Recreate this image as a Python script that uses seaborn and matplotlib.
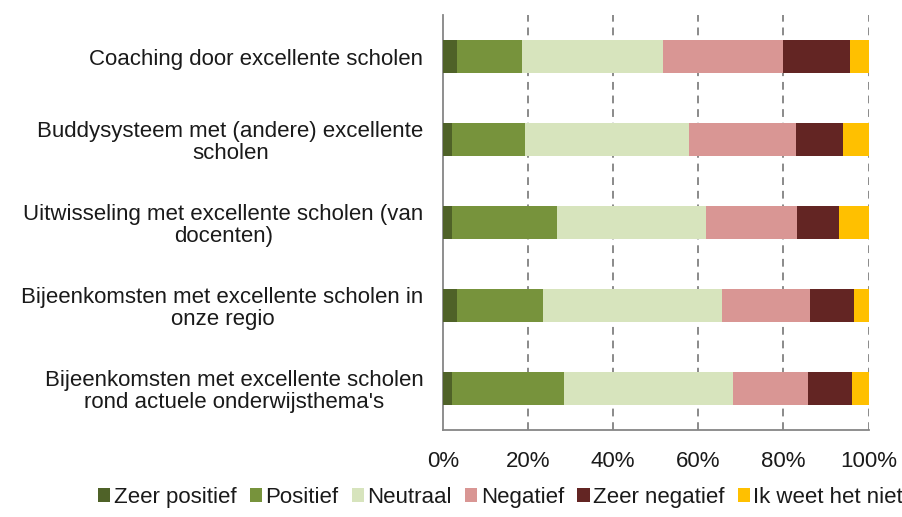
import numpy as np
import pandas as pd
import seaborn as sns
import matplotlib.pyplot as plt
from matplotlib.patches import Patch

# Data (percentages per answer category)
items = [
    "Coaching door excellente scholen",
    "Buddysysteem met (andere) excellente\nscholen",
    "Uitwisseling met excellente scholen (van\ndocenten)",
    "Bijeenkomsten met excellente scholen in\nonze regio",
    "Bijeenkomsten met excellente scholen\nrond actuele onderwijsthema's",
]
answers = ["Zeer positief", "Positief", "Neutraal", "Negatief", "Zeer negatief", "Ik weet het niet"]
zeer_positief = [3.2, 2.2, 2.2, 3.2, 2.2]
positief = [15.5, 17.0, 24.7, 20.2, 26.3]
neutraal = [33.1, 38.6, 34.8, 42.1, 39.7]
negatief = [28.2, 25.1, 21.5, 20.7, 17.6]
zeer_negatief = [15.6, 11.1, 9.9, 10.3, 10.3]
weet_niet = [4.4, 6.0, 6.9, 3.5, 3.9]
colors = ["#4F6228", "#77933C", "#D7E4BD", "#D99694", "#632523", "#FFC000"]

sns.set_style("white")
plt.rcParams['font.family'] = ['Liberation Sans', 'DejaVu Sans']
FS = 16

df = pd.DataFrame({
    "item": items,
    "Zeer positief": zeer_positief,
    "Positief": positief,
    "Neutraal": neutraal,
    "Negatief": negatief,
    "Zeer negatief": zeer_negatief,
    "Ik weet het niet": weet_niet,
})
# normalise each row to 100% and build cumulative sums for stacking
vals = df[answers]
vals = vals.div(vals.sum(axis=1), axis=0) * 100
cum = vals.cumsum(axis=1)
cum["item"] = df["item"]

fig = plt.figure(figsize=(9.02, 5.17), dpi=100)
ax = fig.add_axes([0.491, 0.168, 0.472, 0.803])

# draw from the largest cumulative value down so each segment shows
for ans, col in reversed(list(zip(answers, colors))):
    sns.barplot(data=cum, x=ans, y="item", color=col, orient="h",
                width=0.4, saturation=1, ax=ax, linewidth=0, zorder=3)

ax.set_xlim(0, 100)
ax.set_ylim(4.5, -0.5)
ax.set_xlabel("")
ax.set_ylabel("")
ax.set_xticks(np.arange(0, 101, 20))
ax.set_xticklabels([f"{v}%" for v in range(0, 101, 20)], fontsize=FS, color="#1a1a1a")
for v in range(20, 101, 20):
    ax.axvline(v, color="#8A8A8A", linestyle=(0, (4, 3)), linewidth=1.4, zorder=1)

ax.set_yticks(range(len(items)))
ax.set_yticklabels(items, fontsize=FS, multialignment="center", color="#1a1a1a",
                   linespacing=1.05)
ax.set_yticks(np.arange(-0.5, 5, 1), minor=True)
ax.tick_params(axis="y", which="major", length=0, pad=14)
ax.tick_params(axis="y", which="minor", length=6, color="#868686", width=1.2, direction="out")
ax.tick_params(axis="x", length=5, color="#868686", width=1.2, direction="out", pad=10)

for side in ["top", "right"]:
    ax.spines[side].set_visible(False)
for side in ["left", "bottom"]:
    ax.spines[side].set_color("#868686")
    ax.spines[side].set_linewidth(1.3)

handles = [Patch(facecolor=c, edgecolor="none") for c in colors]
leg = fig.legend(handles, answers, loc="center", bbox_to_anchor=(0.555, 0.038), ncol=6,
                 frameon=False, fontsize=FS, handlelength=0.55, handleheight=0.55,
                 handletextpad=0.15, columnspacing=0.6, borderpad=0)
for t in leg.get_texts():
    t.set_color("#1a1a1a")

fig.savefig("out.png", dpi=100)
